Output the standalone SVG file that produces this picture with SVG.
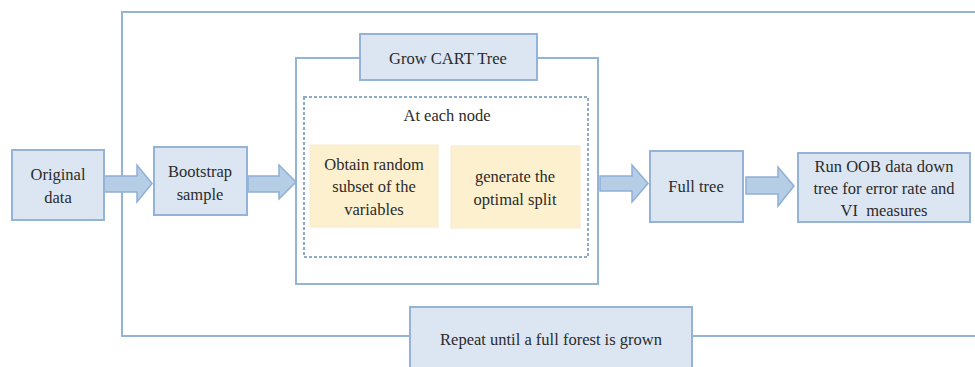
<svg xmlns="http://www.w3.org/2000/svg" width="975" height="367" viewBox="0 0 975 367">
  <style>
    .box { fill: #dce6f2; stroke: #95b3d7; stroke-width: 2; }
    .note { fill: #fdf0cf; stroke: #f6ead0; stroke-width: 1; }
    .frame { fill: none; stroke: #95b3d7; stroke-width: 2; }
    .dotted { fill: none; stroke: #8fa9c8; stroke-width: 2; stroke-dasharray: 3 2; }
    .arrow { fill: #b6cde6; stroke: #8eafd6; stroke-width: 1.5; }
    .lbl { font-family: "Times New Roman", Times, Tinos, "Nimbus Roman", "Noto Serif", FreeSerif, "Liberation Serif", serif; font-size: 16.5px; fill: #2b2b2b; text-anchor: middle; }
  </style>

  <rect width="975" height="367" fill="#ffffff"/>

  <!-- loop frame and tree-growing frame -->
  <g id="frames">
    <path class="frame" d="M980,12 H122 V336 H980"/>
    <rect class="frame" x="296" y="58" width="302" height="226"/>
    <rect class="dotted" x="304" y="97" width="284" height="160"/>
  </g>

  <!-- block arrows -->
  <g id="connectors">
    <path class="arrow" d="M104,176 H137 V165 L152,183.5 L137,202 V192 H104 Z"/>
    <path class="arrow" d="M248,176 H279 V165 L296,182 L279,199 V192 H248 Z"/>
    <path class="arrow" d="M600,176 H632 V165 L648,183.5 L632,202 V191 H600 Z"/>
    <path class="arrow" d="M746,177 H778 V167 L794,186 L778,206 V194 H746 Z"/>
  </g>

  <g id="original-data">
    <rect class="box" x="12" y="150" width="92" height="70"/>
    <text class="lbl" x="58" y="180">Original</text>
    <text class="lbl" x="58" y="203">data</text>
  </g>

  <g id="bootstrap-sample">
    <rect class="box" x="154" y="147" width="93" height="68"/>
    <text class="lbl" x="200" y="177">Bootstrap</text>
    <text class="lbl" x="200" y="200">sample</text>
  </g>

  <g id="grow-cart-tree">
    <rect class="box" x="360" y="34" width="177" height="46"/>
    <text class="lbl" x="448" y="64">Grow CART Tree</text>
  </g>

  <g id="at-each-node">
    <text class="lbl" x="447" y="121">At each node</text>
  </g>

  <g id="random-subset">
    <rect class="note" x="310" y="145" width="128" height="82"/>
    <text class="lbl" x="374" y="170">Obtain random</text>
    <text class="lbl" x="374" y="192">subset of the</text>
    <text class="lbl" x="374" y="215">variables</text>
  </g>

  <g id="optimal-split">
    <rect class="note" x="451" y="146" width="129" height="82"/>
    <text class="lbl" x="515" y="182">generate the</text>
    <text class="lbl" x="515" y="205">optimal split</text>
  </g>

  <g id="full-tree">
    <rect class="box" x="650" y="151" width="93" height="71"/>
    <text class="lbl" x="696" y="192">Full tree</text>
  </g>

  <g id="run-oob">
    <rect class="box" x="798" y="153" width="172" height="69"/>
    <text class="lbl" x="884" y="172">Run OOB data down</text>
    <text class="lbl" x="884" y="194">tree for error rate and</text>
    <text class="lbl" x="884" y="216" xml:space="preserve">VI  measures</text>
  </g>

  <g id="repeat">
    <rect class="box" x="410" y="307" width="282" height="75"/>
    <text class="lbl" x="551" y="345">Repeat until a full forest is grown</text>
  </g>
</svg>
